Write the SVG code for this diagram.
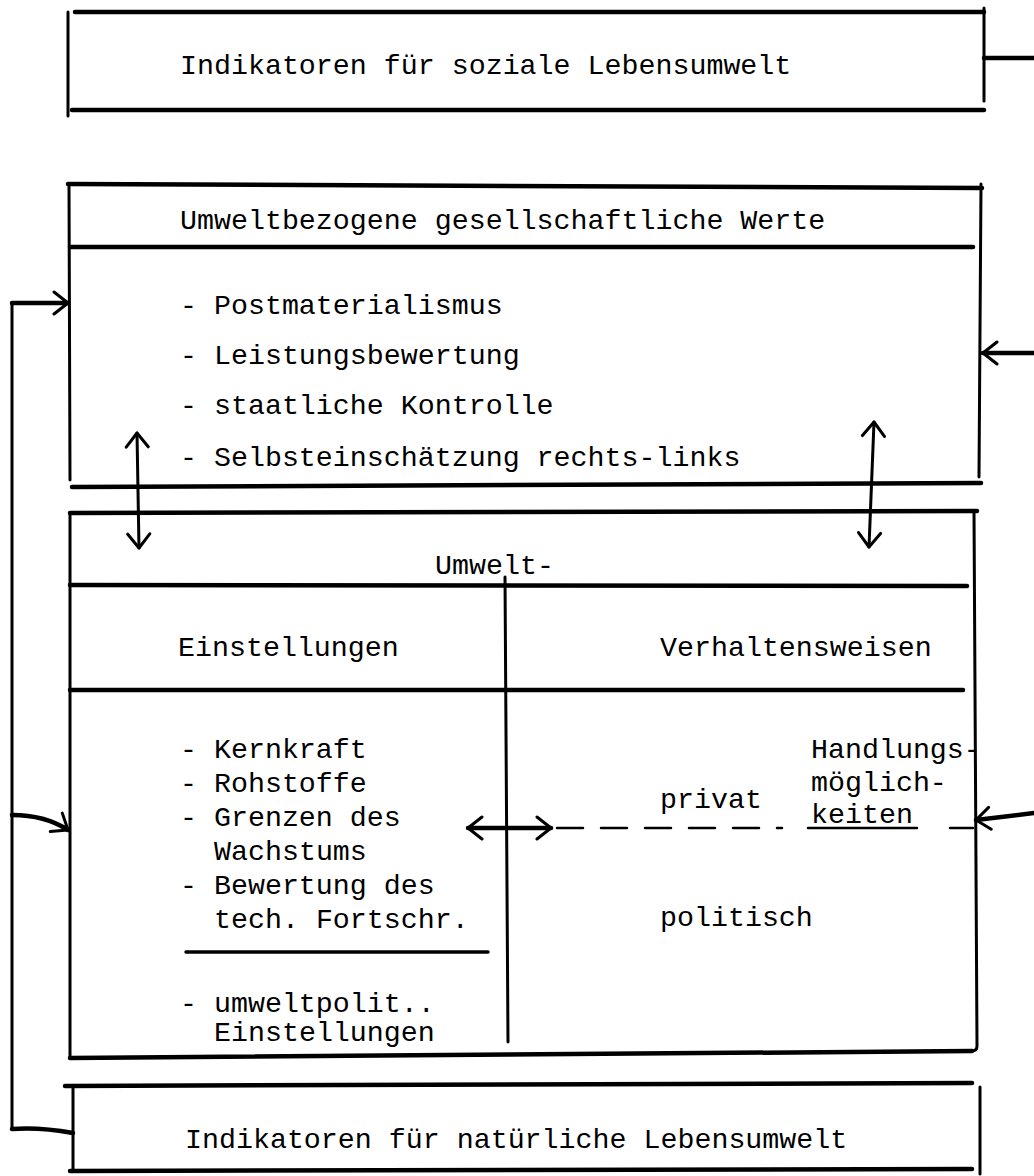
<svg xmlns="http://www.w3.org/2000/svg" width="1034" height="1176" viewBox="0 0 1034 1176">
<style>
text{font-family:"Liberation Mono","DejaVu Sans Mono",monospace;font-size:28.3px;fill:#000}
.h{stroke:#000;stroke-width:4.5;fill:none;stroke-linecap:round}
.v{stroke:#000;stroke-width:3;fill:none;stroke-linecap:round}
.c{stroke:#000;stroke-width:3;fill:none;stroke-linecap:round;stroke-linejoin:round}
.ct{stroke:#000;stroke-width:4.5;fill:none;stroke-linecap:round;stroke-linejoin:round}
</style>
<defs>
<marker id="av" viewBox="0 0 18 26" refX="16" refY="13" markerWidth="18" markerHeight="26" markerUnits="userSpaceOnUse" orient="auto-start-reverse">
<path d="M2,2 L16,13 L2,24" fill="none" stroke="#000" stroke-width="3" stroke-linecap="round" stroke-linejoin="round"/>
</marker>
</defs>
<rect width="1034" height="1176" fill="#fff"/>

<g id="soziale-lebensumwelt">
<path class="h" d="M75,12 L984,12"/>
<path class="h" d="M72,110 L984,110"/>
<path class="v" d="M68,12 L68,116"/>
<path class="v" d="M984,8 L984,101"/>
<text x="180" y="74">Indikatoren für soziale Lebensumwelt</text>
</g>

<g id="gesellschaftliche-werte">
<path class="h" d="M68,184 L982,188"/>
<path class="h" d="M70,247 L973,247"/>
<path class="v" d="M69,184 L70,480"/>
<path class="v" d="M981,184 L979,477"/>
<path class="h" d="M72,487 L981,483"/>
<text x="180" y="229">Umweltbezogene gesellschaftliche Werte</text>
<text x="180" y="314">- Postmaterialismus</text>
<text x="180" y="364">- Leistungsbewertung</text>
<text x="180" y="414">- staatliche Kontrolle</text>
<text x="180" y="466">- Selbsteinschätzung rechts-links</text>
</g>

<g id="umwelt-einstellungen-verhaltensweisen">
<path class="h" d="M70,513 L977,511"/>
<path class="h" d="M70,585 L967,586"/>
<path class="h" d="M70,690 L963,690"/>
<path class="v" d="M70,513 L70,1058"/>
<path class="v" d="M974,511 L977,1046 Q977,1051 972,1051"/>
<path class="h" d="M70,1058 L972,1051"/>
<path class="v" d="M505,577 L508,1042"/>
<path class="h" d="M186,952 L488,952" style="stroke-width:3.5"/>
<path class="v" d="M557,828 L782,828" style="stroke-width:2.5;stroke-dasharray:26 18"/>
<path class="v" d="M808,828 L917,828" style="stroke-width:2.5"/>
<path class="v" d="M950,828 L973,828" style="stroke-width:2.5"/>
<text x="435" y="574">Umwelt-</text>
<text x="178" y="656">Einstellungen</text>
<text x="660" y="656">Verhaltensweisen</text>
<text x="180" y="758">- Kernkraft</text>
<text x="180" y="792">- Rohstoffe</text>
<text x="180" y="826">- Grenzen des</text>
<text x="214" y="860">Wachstums</text>
<text x="180" y="894">- Bewertung des</text>
<text x="214" y="928">tech. Fortschr.</text>
<text x="180" y="1012">- umweltpolit..</text>
<text x="214" y="1041">Einstellungen</text>
<text x="660" y="808">privat</text>
<text x="811" y="758">Handlungs-</text>
<text x="811" y="791">möglich-</text>
<text x="811" y="823">keiten</text>
<text x="660" y="926">politisch</text>
</g>

<g id="natuerliche-lebensumwelt">
<path class="h" d="M65,1086 L972,1083"/>
<path class="h" d="M70,1171 L972,1169"/>
<path class="v" d="M73,1086 L73,1171"/>
<path class="v" d="M980,1087 L980,1174"/>
<text x="185" y="1148">Indikatoren für natürliche Lebensumwelt</text>
</g>

<g id="connectors">
<path class="ct" d="M984,58 L1034,58"/>
<path class="ct" d="M1034,353 L983,353" marker-end="url(#av)"/>
<path class="ct" d="M1034,813 L976,820" marker-end="url(#av)"/>
<path class="c" d="M12,303 L12,1129"/>
<path class="ct" d="M12,303 L68,303" marker-end="url(#av)"/>
<path class="ct" d="M12,815 Q45,815 68,830" marker-end="url(#av)"/>
<path class="ct" d="M12,1129 Q40,1127 73,1133"/>
<path class="c" d="M137,433 L139,548" marker-start="url(#av)" marker-end="url(#av)"/>
<path class="c" d="M874,422 L869,547" marker-start="url(#av)" marker-end="url(#av)"/>
<path class="ct" d="M468,828 L551,828" marker-start="url(#av)" marker-end="url(#av)"/>
</g>
</svg>
